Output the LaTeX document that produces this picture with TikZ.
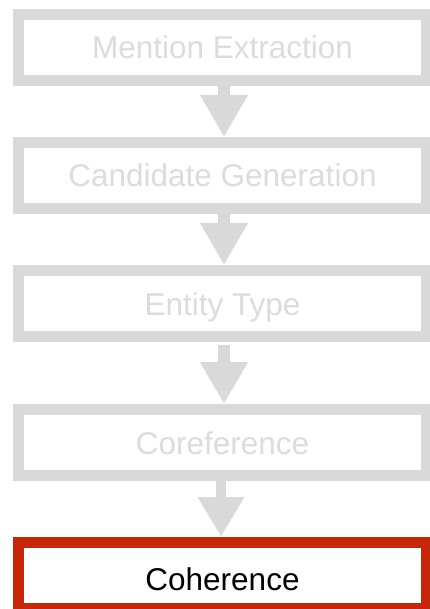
\documentclass[tikz,border=0pt]{standalone}
\usepackage{fontspec}
\setmainfont{Liberation Sans}
\usetikzlibrary{arrows.meta}
\definecolor{stagegray}{RGB}{217,217,217}
\definecolor{labelgray}{RGB}{220,220,220}
\definecolor{activered}{RGB}{200,38,8}
\tikzset{
  stagebox/.style={rectangle, draw=stagegray, line width=11pt, fill=white,
    minimum width=408pt, minimum height=66pt, inner sep=0pt,
    text height=23pt, text depth=0pt,
    font=\fontsize{31.5}{36}\selectfont, text=labelgray},
  activebox/.style={stagebox, draw=activered, text=black, text height=30pt},
  flow/.style={draw=stagegray, line width=12pt,
    -{Triangle[width=45pt,length=42pt,fill=stagegray]}}
}
\begin{document}
\begin{tikzpicture}[x=1pt,y=-1pt]
  \useasboundingbox (0,0) rectangle (430,609);
  % processing stages, top to bottom
  \node[stagebox]  (mention)   at (222.5,47.5)  {Mention Extraction};
  \node[stagebox]  (candidate) at (222.5,175.5) {Candidate Generation};
  \node[stagebox]  (etype)     at (222.5,303.5) {Entity Type};
  \node[stagebox]  (coref)     at (222.5,442.5) {Coreference};
  \node[activebox] (coherence) at (222.5,575.5) {Coherence};
  % block arrows between stages
  \draw[flow] ([xshift=1.5pt]mention.south)   -- ([xshift=1.5pt]candidate.north);
  \draw[flow] ([xshift=1.5pt]candidate.south) -- ([xshift=1.5pt]etype.north);
  \draw[flow] ([xshift=1.5pt,yshift=-3pt]etype.south) -- ([xshift=1.5pt]coref.north);
  \draw[flow, line width=10.5pt, -{Triangle[width=44pt,length=40pt,fill=stagegray]}]
    ([xshift=-1.5pt]coref.south) -- ([xshift=-1.5pt]coherence.north);
\end{tikzpicture}
\end{document}
